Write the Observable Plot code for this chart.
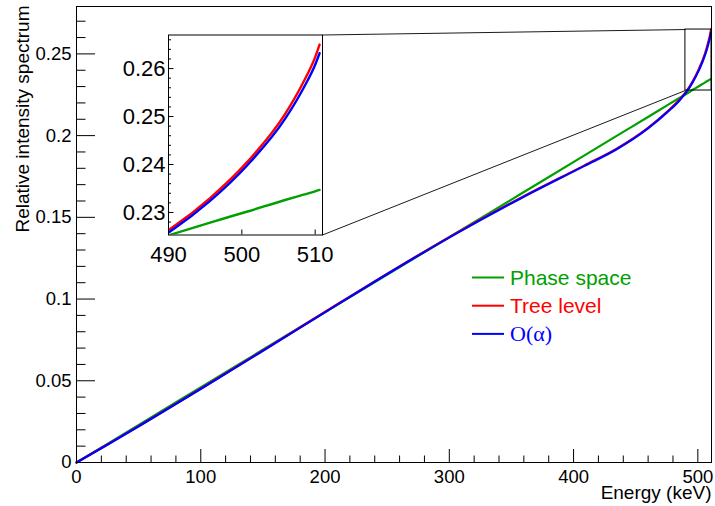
<!DOCTYPE html>
<html><head><meta charset="utf-8">
<script src="https://cdn.jsdelivr.net/npm/d3@7"></script>
<script src="https://cdn.jsdelivr.net/npm/@observablehq/plot@0.6"></script>
<style>
html,body{margin:0;padding:0;background:#fff;}
#chart{position:relative;width:715px;height:506px;overflow:hidden;background:#fff;}
#chart svg{position:absolute;}
</style></head><body><div id="chart"></div>
<script>
// ---- data ----
const energy      = [0, 25.55, 51.1, 102.2, 153.3, 204.4, 255.5, 306.6, 357.7, 408.8, 434.35, 459.9, 475.23, 485.45, 490.56, 495.67, 500.78, 505.89, 508.4, 510.0, 510.6];
const phaseSpace  = [0, 0.0117, 0.0235, 0.0470, 0.0705, 0.0940, 0.1175, 0.1409, 0.1644, 0.1879, 0.1997, 0.2114, 0.2185, 0.2232, 0.2255, 0.2279, 0.2302, 0.2326, 0.2337, 0.2344, 0.2347];
const treeLevel   = [0, 0.0113, 0.0227, 0.0462, 0.0701, 0.0942, 0.1180, 0.1408, 0.1620, 0.1818, 0.1919, 0.2048, 0.2146, 0.2222, 0.2269, 0.2330, 0.2406, 0.2505, 0.2572, 0.2624, 0.2650];
const orderAlpha  = [0, 0.0112, 0.0226, 0.0460, 0.0699, 0.0940, 0.1178, 0.1405, 0.1617, 0.1815, 0.1915, 0.2044, 0.2142, 0.2217, 0.2264, 0.2324, 0.2399, 0.2495, 0.2559, 0.2608, 0.2632];
const seriesNames  = ["Phase space", "Tree level", "O(\u03b1)"];
const seriesValues = [phaseSpace, treeLevel, orderAlpha];
const seriesColors = ["#00a000", "#ff0000", "#0000ff"];

const xTicks = [0, 100, 200, 300, 400, 500];
const xTickLabels = ["0", "100", "200", "300", "400", "500"];
const yTicks = [0, 0.05, 0.1, 0.15, 0.2, 0.25];
const yTickLabels = ["0", "0.05", "0.1", "0.15", "0.2", "0.25"];
const insetXTicks = [490, 500, 510];
const insetXTickLabels = ["490", "500", "510"];
const insetYTicks = [0.23, 0.24, 0.25, 0.26];
const insetYTickLabels = ["0.23", "0.24", "0.25", "0.26"];

const xDomain = [0, 511];
const yDomain = [0, 0.279];
const insetXDomain = [490, 511];
const insetYDomain = [0.2253, 0.2670];
const zoomBoxX = [490, 511];
const zoomBoxY = [0.2276, 0.2649];

const xTitle = "Energy (keV)";
const yTitle = "Relative intensity spectrum";

// ---- layout ----
const W = 715, H = 506, mL = 76, mR = 4, mT = 6, mB = 44;
const pw = W - mL - mR, ph = H - mT - mB;
const font = "'Liberation Sans', Arial, Helvetica, sans-serif";
const serif = "'Liberation Serif', 'Times New Roman', serif";
const fmt = (ticks, labels) => d => labels[ticks.findIndex(t => Math.abs(t - d) < 1e-9)];

const rows = seriesNames.map((name, s) => energy.map((E, i) => ({E, v: seriesValues[s][i], name})));

const xMinor = d3.range(0, 511, 20).filter(v => !xTicks.includes(v));
const yMinor = d3.range(0, 28).map(i => +(i * 0.01).toFixed(2)).filter(v => !yTicks.some(t => Math.abs(t - v) < 1e-9));

const main = Plot.plot({
  width: W, height: H,
  marginLeft: mL, marginRight: mR, marginTop: mT, marginBottom: mB,
  style: {fontFamily: font, background: "white", color: "black"},
  x: {domain: xDomain},
  y: {domain: yDomain},
  marks: [
    Plot.tickX(xTicks, {x: d => d, insetTop: ph - 13, stroke: "black"}),
    Plot.tickX(xMinor, {x: d => d, insetTop: ph - 6.5, stroke: "black"}),
    Plot.tickY(yTicks, {y: d => d, insetRight: pw - 19, stroke: "black"}),
    Plot.tickY(yMinor, {y: d => d, insetRight: pw - 9.5, stroke: "black"}),
    Plot.axisX(xTicks, {tickSize: 0, tickPadding: 7, fontSize: 18.5, tickFormat: fmt(xTicks, xTickLabels), label: null}),
    Plot.axisY(yTicks, {tickSize: 0, tickPadding: 5, fontSize: 18.5, tickFormat: fmt(yTicks, yTickLabels), label: null}),
    ...rows.map((r, s) => Plot.line(r, {x: "E", y: "v", stroke: seriesColors[s], strokeWidth: 2.2, curve: "monotone-x"})),
    Plot.rect([{x1: zoomBoxX[0], x2: zoomBoxX[1], y1: zoomBoxY[0], y2: zoomBoxY[1]}],
      {x1: "x1", x2: "x2", y1: "y1", y2: "y2", fill: "none", stroke: "black", strokeWidth: 1}),
    Plot.frame({stroke: "black", strokeWidth: 1}),
    Plot.text([xTitle], {text: d => d, frameAnchor: "bottom-right", textAnchor: "end", lineAnchor: "bottom", dy: 36.5, fontSize: 19}),
    Plot.text([yTitle], {text: d => d, frameAnchor: "top-left", rotate: -90, textAnchor: "end", lineAnchor: "bottom", dx: -47.5, dy: -1, fontSize: 19})
  ]
});
main.style.left = "0px"; main.style.top = "0px";

// inset frame position (pixels in the page)
const iL = 168, iR = 322, iT = 34.5, iB = 234.5;
const IX = 100, IY = 15, IW = 245, IH = 260;
const ipw = iR - iL, iph = iB - iT;
const insetYMinor = d3.range(113, 134).map(i => +(i * 0.002).toFixed(3)).filter(v => !insetYTicks.some(t => Math.abs(t - v) < 1e-9));

const inset = Plot.plot({
  width: IW, height: IH,
  marginLeft: iL - IX, marginRight: IX + IW - iR, marginTop: iT - IY, marginBottom: IY + IH - iB,
  style: {fontFamily: font, background: "transparent", color: "black", overflow: "visible"},
  x: {domain: insetXDomain},
  y: {domain: insetYDomain},
  marks: [
    Plot.frame({fill: "white", stroke: "none"}),
    Plot.tickX(insetXTicks, {x: d => d, insetTop: iph - 5, stroke: "black"}),
    Plot.tickY(insetYTicks, {y: d => d, insetRight: ipw - 5.5, stroke: "black"}),
    Plot.tickY(insetYMinor, {y: d => d, insetRight: ipw - 3, stroke: "black"}),
    Plot.axisX(insetXTicks, {tickSize: 0, tickPadding: 11, fontSize: 22, tickFormat: fmt(insetXTicks, insetXTickLabels), label: null}),
    Plot.axisY(insetYTicks, {tickSize: 0, tickPadding: 3, fontSize: 22, tickFormat: fmt(insetYTicks, insetYTickLabels), label: null}),
    ...rows.map((r, s) => Plot.line(r, {x: "E", y: "v", stroke: seriesColors[s], strokeWidth: 2.4, curve: "monotone-x", clip: true})),
    Plot.frame({stroke: "black", strokeWidth: 1})
  ]
});
inset.style.left = IX + "px"; inset.style.top = IY + "px";

// connector lines from inset to zoom box, via the main plot's scales
const sx = main.scale("x"), sy = main.scale("y");
const g = d3.select(main).append("g").attr("stroke", "black").attr("stroke-width", 0.9);
g.append("line").attr("x1", iR + 0.5).attr("y1", iT + 0.5).attr("x2", sx.apply(zoomBoxX[0]) + 0.5).attr("y2", sy.apply(zoomBoxY[1]) + 0.5);
g.append("line").attr("x1", iR + 0.5).attr("y1", iB + 0.5).attr("x2", sx.apply(zoomBoxX[0]) + 0.5).attr("y2", sy.apply(zoomBoxY[0]) + 0.5);

// legend
const legX1 = 472, legX2 = 504, legTextX = 510, legTop = 277.5, legGap = 28.2;
const leg = d3.select(main).append("g").attr("text-anchor", "start");
seriesNames.forEach((name, i) => {
  const y = legTop + i * legGap;
  leg.append("line").attr("x1", legX1).attr("x2", legX2).attr("y1", y).attr("y2", y)
    .attr("stroke", seriesColors[i]).attr("stroke-width", 2);
  leg.append("text").attr("x", legTextX).attr("y", y + 7)
    .attr("text-anchor", "start")
    .attr("fill", seriesColors[i])
    .attr("font-family", i === 2 ? serif : font)
    .attr("font-size", i === 2 ? 22 : 21)
    .text(name);
});

const chart = document.getElementById("chart");
chart.appendChild(main);
chart.appendChild(inset);
</script>
</body></html>
